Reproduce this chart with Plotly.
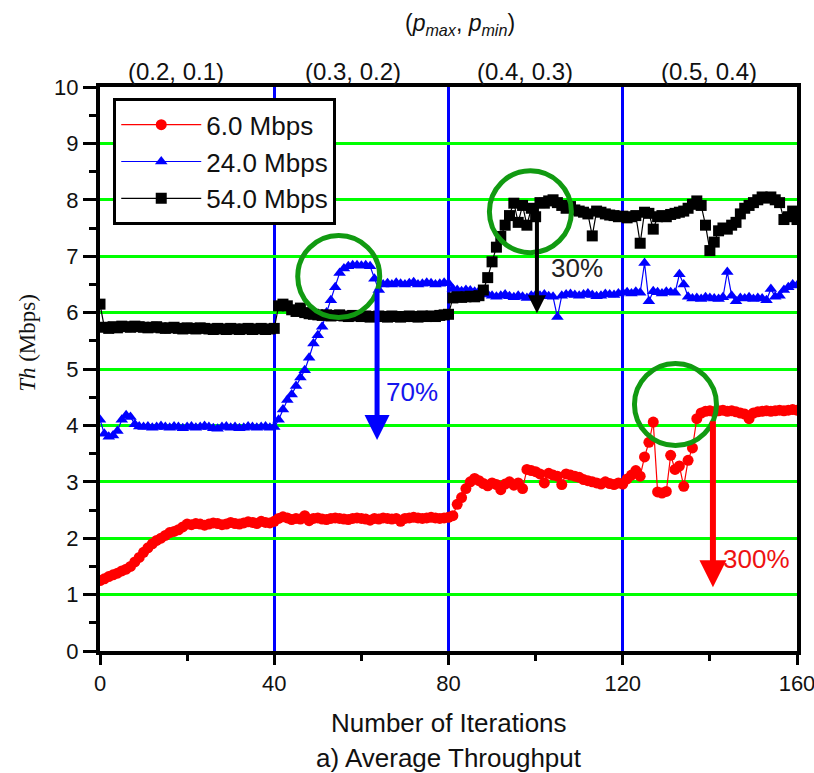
import plotly.graph_objects as go

# ---------------- data ----------------
iterations = list(range(0, 161))

rate_6 = [
    1.25, 1.28, 1.32, 1.35, 1.38, 1.42, 1.45, 1.50, 1.58, 1.66,
    1.75, 1.83, 1.90, 1.96, 2.00, 2.05, 2.10, 2.12, 2.15, 2.20,
    2.25,
    2.24, 2.26, 2.25, 2.23, 2.25, 2.27, 2.26, 2.24, 2.25, 2.28,
    2.26, 2.25, 2.27, 2.29, 2.28, 2.26, 2.30, 2.28, 2.27, 2.30,
    2.35, 2.38, 2.36, 2.33, 2.35, 2.34, 2.40, 2.31, 2.35, 2.36,
    2.34, 2.33, 2.35, 2.36, 2.35, 2.34, 2.33, 2.35, 2.36, 2.35,
    2.34, 2.32, 2.35, 2.34, 2.36, 2.35, 2.34, 2.35, 2.30, 2.35,
    2.36, 2.37, 2.36, 2.35, 2.36, 2.37, 2.36, 2.35, 2.36, 2.37,
    2.40, 2.60, 2.72, 2.88, 3.00, 3.06, 3.02, 2.97, 2.93, 2.98,
    2.95, 2.86, 2.96, 3.00, 2.94, 2.98, 2.88, 3.22, 3.20, 3.18,
    3.14, 2.98, 3.15, 3.12, 3.10, 2.95, 3.14, 3.12, 3.10, 3.08,
    3.04, 3.02, 3.00, 2.98, 2.96, 3.00, 2.97, 2.95, 2.98, 2.96,
    3.05, 3.12, 3.20, 3.10, 3.44, 3.70, 4.06, 2.82, 2.80, 2.83,
    3.47, 3.22, 3.28, 2.92, 3.38, 3.60, 4.12, 4.22, 4.25, 4.26,
    4.24, 4.26, 4.27, 4.25, 4.26, 4.24, 4.22, 4.20, 4.12, 4.22,
    4.24, 4.25, 4.26, 4.25, 4.26, 4.27, 4.26, 4.27, 4.28, 4.27,
]

rate_24 = [
    4.10, 3.85, 3.80, 3.82, 3.90, 4.10, 4.18, 4.15, 4.02, 3.98,
    3.97,
    3.98, 3.96, 3.97, 3.99, 3.97, 3.96, 3.98, 3.97, 3.95, 3.97,
    3.98, 3.96, 3.97, 3.99, 3.97, 3.95, 3.94, 3.97, 3.98, 3.96,
    3.97, 3.95, 3.96, 3.98, 3.97, 3.96, 3.97, 3.98, 3.96, 3.97,
    4.10, 4.28, 4.45, 4.55, 4.70, 4.85, 4.98, 5.20, 5.45, 5.60,
    5.75, 6.00, 6.22, 6.45, 6.70, 6.78, 6.82, 6.84, 6.84, 6.83,
    6.84, 6.82, 6.60, 6.40, 6.50, 6.52, 6.50, 6.53, 6.51, 6.50,
    6.52, 6.54, 6.50, 6.51, 6.53, 6.52, 6.50, 6.51, 6.53, 6.52,
    6.42, 6.40, 6.38, 6.40, 6.39, 6.37, 6.38, 6.35, 6.32, 6.30,
    6.28, 6.30, 6.32, 6.29, 6.27, 6.30, 6.28, 6.26, 6.30, 6.31,
    6.30, 6.32, 6.29, 6.28, 5.92, 6.30, 6.32, 6.33, 6.31, 6.30,
    6.32, 6.34, 6.31, 6.29, 6.30, 6.33, 6.32, 6.31, 6.34, 6.35,
    6.36, 6.34, 6.37, 6.35, 6.88, 6.20, 6.38, 6.36, 6.34, 6.37,
    6.36, 6.35, 6.68, 6.50, 6.28, 6.25, 6.26, 6.24, 6.27, 6.26,
    6.25, 6.24, 6.27, 6.72, 6.30, 6.20, 6.26, 6.25, 6.27, 6.24,
    6.26, 6.25, 6.22, 6.42, 6.28, 6.30, 6.40, 6.45, 6.50, 6.48,
]

rate_54 = [
    6.15, 5.74, 5.72, 5.75, 5.73, 5.76, 5.75, 5.74, 5.76, 5.75,
    5.74, 5.73, 5.74, 5.75, 5.73, 5.72, 5.73, 5.74, 5.72, 5.71,
    5.73, 5.72, 5.71, 5.73, 5.72, 5.71, 5.70, 5.72, 5.71, 5.70,
    5.72, 5.71, 5.70, 5.71, 5.72, 5.70, 5.71, 5.72, 5.70, 5.71,
    5.72,
    6.12, 6.15, 6.12, 6.05, 6.02, 6.08, 6.00, 5.98, 5.97, 5.96,
    5.95, 5.96, 5.94, 5.95, 5.96, 5.94, 5.93, 5.95, 5.94, 5.93,
    5.94, 5.92, 5.93, 5.94, 5.93, 5.92, 5.94, 5.93, 5.92, 5.93,
    5.94, 5.93, 5.92, 5.94, 5.93, 5.94, 5.93, 5.95, 5.96, 5.97,
    6.26, 6.28, 6.27, 6.28, 6.29, 6.28, 6.30, 6.40, 6.62, 6.90,
    7.16, 7.35, 7.55, 7.72, 7.94, 7.60, 7.90, 7.55, 7.85, 7.70,
    7.95, 7.94, 7.98, 8.00, 7.95, 7.90, 7.85, 7.88, 7.82, 7.80,
    7.78, 7.75, 7.36, 7.80, 7.78, 7.75, 7.73, 7.72, 7.70, 7.71,
    7.68, 7.70, 7.72, 7.23, 7.78, 7.76, 7.48, 7.70, 7.72, 7.70,
    7.74, 7.76, 7.78, 7.80, 7.85, 7.92, 7.98, 7.90, 7.55, 7.10,
    7.25, 7.45, 7.50, 7.48, 7.55, 7.60, 7.75, 7.85, 7.90, 7.95,
    8.00, 8.05, 8.03, 8.05, 8.00, 7.95, 7.65, 7.70, 7.80, 7.65,
]

series_names = ["6.0 Mbps", "24.0 Mbps", "54.0 Mbps"]
x_tick_vals = [0, 40, 80, 120, 160]
y_tick_vals = list(range(0, 11))

# top-axis parameter labels (iteration position, text)
phase_pos = [17.4, 58, 97.6, 139.8]
phase_labels = ["(0.2, 0.1)", "(0.3, 0.2)", "(0.4, 0.3)", "(0.5, 0.4)"]

# highlighted spots (iteration, throughput)
highlight_x = [54.8, 98.8, 132.1]
highlight_y = [6.64, 7.79, 4.37]

# improvement arrows: x, from, to, label, label pos
arrow_x = [63.6, 100.3, 140.7]
arrow_from = [6.45, 7.9, 4.1]
arrow_to = [3.74, 5.99, 1.13]
arrow_text = ["70%", "30%", "300%"]
arrow_text_x = [71.6, 109.5, 150.6]
arrow_text_y = [4.59, 6.79, 1.63]

# ---------------- figure ----------------
SANS = "Liberation Sans, Arial, sans-serif"
SERIF = "Liberation Serif, Times New Roman, serif"

fig = go.Figure()
fig.add_trace(go.Scatter(
    x=iterations, y=rate_6, name=series_names[0], mode="lines+markers",
    line=dict(color="#ff0000", width=1.2),
    marker=dict(symbol="circle", size=11, color="#ff0000"),
))
fig.add_trace(go.Scatter(
    x=iterations, y=rate_24, name=series_names[1], mode="lines+markers",
    line=dict(color="#0000ff", width=1.2),
    marker=dict(symbol="triangle-up", size=11, color="#0000ff"),
))
fig.add_trace(go.Scatter(
    x=iterations, y=rate_54, name=series_names[2], mode="lines+markers",
    line=dict(color="#000000", width=1.2),
    marker=dict(symbol="square", size=11, color="#000000"),
))

# green highlight circles (pixel-sized)
for cx, cy in zip(highlight_x, highlight_y):
    fig.add_shape(type="circle", xref="x", yref="y",
                  xsizemode="pixel", ysizemode="pixel",
                  xanchor=cx, yanchor=cy,
                  x0=-41, x1=41, y0=-41, y1=41,
                  line=dict(color="#119a11", width=5))

arrow_colors = ["#0000ff", "#000000", "#ff0000"]
arrow_widths = [5, 4, 6]
arrow_sizes = [1.0, 0.9, 0.9]
text_colors = ["#1515ee", "#222222", "#ee1111"]
for i in range(3):
    fig.add_annotation(
        x=arrow_x[i], y=arrow_to[i], ax=arrow_x[i], ay=arrow_from[i],
        xref="x", yref="y", axref="x", ayref="y",
        text="", showarrow=True, arrowhead=2,
        arrowsize=arrow_sizes[i], arrowwidth=arrow_widths[i],
        arrowcolor=arrow_colors[i], standoff=0, startstandoff=0,
    )
    fig.add_annotation(
        x=arrow_text_x[i], y=arrow_text_y[i], xref="x", yref="y",
        xanchor="center", yanchor="middle",
        text=arrow_text[i], showarrow=False,
        font=dict(family=SANS, size=26, color=text_colors[i]),
    )

# top labels
for px, lab in zip(phase_pos, phase_labels):
    fig.add_annotation(x=px, y=1.028, xref="x", yref="paper",
                       xanchor="center", yanchor="middle",
                       text=lab, showarrow=False,
                       font=dict(family=SANS, size=24, color="#111"))
fig.add_annotation(x=0.516, y=1.11, xref="paper", yref="paper",
                   xanchor="center", yanchor="middle",
                   text="(<i>p</i><sub><i>max</i></sub>, <i>p</i><sub><i>min</i></sub>)",
                   showarrow=False,
                   font=dict(family=SANS, size=23, color="#111"))

# axis titles
fig.add_annotation(x=0.5, y=-0.128, xref="paper", yref="paper",
                   xanchor="center", yanchor="middle",
                   text="Number of Iterations", showarrow=False,
                   font=dict(family=SANS, size=26, color="#111"))
fig.add_annotation(x=0.5, y=-0.19, xref="paper", yref="paper",
                   xanchor="center", yanchor="middle",
                   text="a) Average Throughput", showarrow=False,
                   font=dict(family=SANS, size=26, color="#111"))
fig.add_annotation(x=-0.105, y=0.546, xref="paper", yref="paper",
                   xanchor="center", yanchor="middle",
                   text="<i>Th</i> (Mbps)", showarrow=False, textangle=-90,
                   font=dict(family=SERIF, size=23, color="#111"))

fig.update_layout(
    width=814, height=773,
    margin=dict(l=100, r=17, t=87, b=122, autoexpand=False),
    paper_bgcolor="white", plot_bgcolor="white",
    showlegend=True,
    legend=dict(
        x=0.019, y=0.98, xanchor="left", yanchor="top",
        bordercolor="black", borderwidth=3, bgcolor="white",
        font=dict(family=SANS, size=26, color="#111"),
        itemwidth=80, tracegroupgap=0,
    ),
    xaxis=dict(
        range=[0, 160], tickvals=x_tick_vals,
        ticktext=[str(v) for v in x_tick_vals],
        showgrid=True, gridcolor="#0000ff", gridwidth=2.5,
        showline=True, linecolor="black", linewidth=4, mirror=True,
        ticks="outside", ticklen=10, tickwidth=3, tickcolor="black",
        minor=dict(dtick=20, tick0=0, ticks="outside", ticklen=6,
                   tickwidth=3, tickcolor="black", showgrid=False),
        tickfont=dict(family=SANS, size=22, color="#111"),
        ticklabeloverflow="allow", automargin=False,
        zeroline=False,
    ),
    yaxis=dict(
        range=[0, 10], tickvals=y_tick_vals,
        showgrid=True, gridcolor="#00ff00", gridwidth=3,
        showline=True, linecolor="black", linewidth=4, mirror=True,
        ticks="outside", ticklen=13, tickwidth=3, tickcolor="black",
        minor=dict(dtick=0.5, tick0=0, ticks="outside", ticklen=7,
                   tickwidth=3, tickcolor="black", showgrid=False),
        tickfont=dict(family=SANS, size=22, color="#111"),
        automargin=False,
        zeroline=False,
    ),
)

# remove the browser's default 8 px body margin so the figure sits at (0, 0)
fig.write_html(
    "out.html",
    config={"displayModeBar": False},
    post_script="document.body.style.margin='0';document.body.style.overflow='hidden';",
)
